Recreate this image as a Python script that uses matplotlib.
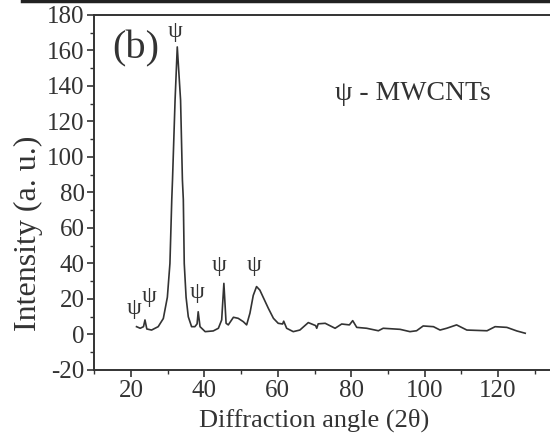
import matplotlib
matplotlib.use("Agg")
from matplotlib import pyplot as plt
from matplotlib.lines import Line2D
from matplotlib.ticker import MultipleLocator

# XRD pattern values
angle = [21.5, 22.5, 23.4, 23.8, 24.3, 25.6, 27.4, 28.8, 29.9, 30.6, 31.1, 31.3,
         32.0, 32.6, 33.5, 34.0, 34.25, 34.5, 35.0, 35.6, 36.5, 37.4, 38.0,
         38.3, 38.8, 40.2, 42.4, 43.8, 44.7, 45.3, 45.9, 46.5, 47.9, 49.2,
         50.6, 51.5, 52.4, 53.3, 54.2, 55.1, 56.0, 57.4, 58.8, 60.1, 61.3,
         61.6, 62.4, 64.2, 66.0, 68.3, 70.3, 70.6, 71.0, 72.9, 75.6, 77.4,
         79.5, 80.4, 81.5, 84.2, 87.4, 88.7, 93.3, 96.0, 97.8, 99.6, 102.4,
         104.2, 106.0, 108.7, 111.5, 117.0, 119.2, 122.4, 125.1, 127.4]
intensity = [4.4, 3.5, 4.4, 8.2, 3.1, 2.5, 4.4, 9.0, 21.0, 40.0, 76.0, 87.0,
             132.0, 162.0, 132.0, 87.0, 76.0, 40.0, 21.0, 10.0, 4.4, 4.4, 6.0,
             12.8, 4.4, 1.6, 2.0, 3.5, 8.2, 28.8, 6.3, 5.4, 9.7, 9.1,
             7.2, 5.4, 12.0, 22.0, 27.0, 25.0, 21.0, 14.8, 9.1, 6.3, 5.9,
             7.5, 3.5, 1.6, 2.5, 6.7, 5.0, 3.5, 6.0, 6.3, 3.5, 5.9,
             5.4, 7.8, 4.0, 3.5, 2.1, 3.5, 2.9, 1.6, 2.1, 4.8, 4.4,
             2.5, 3.5, 5.4, 2.5, 2.1, 4.4, 4.0, 2.0, 0.7]

# psi markers above the MWCNT peaks
psi_x = [20.9, 25.0, 32.0, 37.9, 44.1, 53.6]
psi_y = [9.0, 15.5, 165.0, 18.0, 33.0, 33.0]

plt.rcParams["font.family"] = ["Liberation Serif", "DejaVu Serif"]
plt.rcParams["axes.unicode_minus"] = False
col = "#333333"

fig = plt.figure(figsize=(5.5, 4.34), dpi=100)
ax = fig.add_axes([0.1715, 0.1475, 0.8675, 0.818])

ax.plot(angle, intensity, color=col, linewidth=1.2)
for px, py in zip(psi_x, psi_y):
    ax.text(px, py, "ψ", ha="center", va="bottom", fontsize=17, color=col)

ax.text(0.087, 0.905, "(b)", transform=ax.transAxes, fontsize=29,
        ha="center", va="center", color=col)
ax.text(0.504, 0.78, "ψ - MWCNTs", transform=ax.transAxes, fontsize=20,
        ha="left", va="center", color=col)

ax.set_xlim(10, 140)
ax.set_ylim(-20, 180)
ax.xaxis.set_major_locator(MultipleLocator(20))
ax.xaxis.set_minor_locator(MultipleLocator(10))
ax.yaxis.set_major_locator(MultipleLocator(20))
ax.yaxis.set_minor_locator(MultipleLocator(10))
ax.set_xticks([20, 40, 60, 80, 100, 120])
ax.tick_params(which="major", direction="out", length=5, width=1.2,
               labelsize=18, colors=col, pad=2)
ax.tick_params(which="minor", direction="out", length=3, width=1.0, colors=col)
for s in ax.spines.values():
    s.set_color(col)
    s.set_linewidth(1.4)

ax.set_xlabel("Diffraction angle (2θ)", fontsize=19, color=col, va="center")
ax.set_ylabel("Intensity (a. u.)", fontsize=23, color=col, va="center")
ax.xaxis.set_label_coords(0.4605, -0.141)
ax.yaxis.set_label_coords(-0.139, 0.386)

# border of the panel above, cut at the top edge
fig.add_artist(Line2D([0.04, 1.0], [0.997, 0.997], color="#222222",
                      linewidth=2.5, transform=fig.transFigure))

fig.savefig("out.png", dpi=100)
